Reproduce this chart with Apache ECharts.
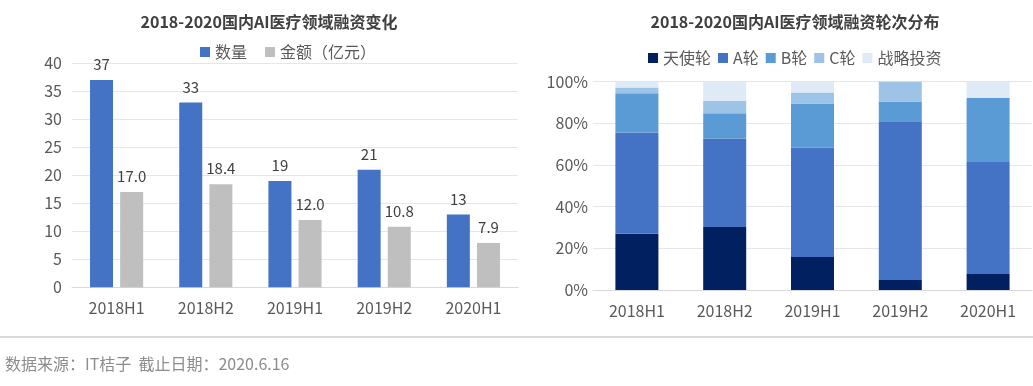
<!DOCTYPE html>
<html><head><meta charset="utf-8">
<script src="https://cdn.jsdelivr.net/npm/echarts@6/dist/echarts.min.js"></script>
<style>html,body{margin:0;padding:0;background:#fff}#c{width:1033px;height:386px}</style>
</head><body><div id="c"></div>
<script>
var categories = ['2018H1','2018H2','2019H1','2019H2','2020H1'];
var dealCount = [37, 33, 19, 21, 13];
var dealAmount = [17.0, 18.4, 12.0, 10.8, 7.9];
var leftTicks = [0,5,10,15,20,25,30,35,40];
var roundNames = ['天使轮','A轮','B轮','C轮','战略投资'];
var angelPct = [27.0, 30.3, 15.8, 4.8, 7.7];
var roundAPct = [48.6, 42.4, 52.6, 76.2, 53.8];
var roundBPct = [18.9, 12.1, 21.1, 9.5, 30.8];
var roundCPct = [2.7, 6.1, 5.3, 9.5, 0];
var strategicPct = [2.8, 9.1, 5.2, 0, 7.7];
var roundColors = ['#002060','#4472C4','#5B9BD5','#9DC3E6','#DEEBF7'];
var font = '"Noto Sans CJK SC","Noto Sans",sans-serif';
var txt = '#595959';

var chart = echarts.init(document.getElementById('c'));
var roundData = [angelPct, roundAPct, roundBPct, roundCPct, strategicPct];
var rightSeries = roundNames.map(function(n,i){
  return {name:n,type:'bar',stack:'r',xAxisIndex:1,yAxisIndex:1,barWidth:43,
    itemStyle:{color:roundColors[i]},data:roundData[i]};
});
chart.setOption({
  animation:false,
  textStyle:{fontFamily:font},
  title:[
    {text:'2018-2020国内AI医疗领域融资变化',left:264,top:9,textAlign:'center',
     textStyle:{fontSize:16,fontWeight:'bold',color:'#404040',fontFamily:font}},
    {text:'2018-2020国内AI医疗领域融资轮次分布',left:790,top:9,textAlign:'center',
     textStyle:{fontSize:16,fontWeight:'bold',color:'#404040',fontFamily:font}}
  ],
  legend:[
    {data:['数量','金额（亿元）'],left:195,top:39,itemWidth:10,itemHeight:10,itemGap:18,
     icon:'rect',textStyle:{fontSize:16,color:txt,fontFamily:font}},
    {data:roundNames,left:643,top:45,itemWidth:10,itemHeight:10,itemGap:7,
     icon:'rect',textStyle:{fontSize:16,color:txt,fontFamily:font}}
  ],
  grid:[
    {left:72,right:515,top:63.3,bottom:98.7},
    {left:593,right:1,top:81.7,bottom:96}
  ],
  xAxis:[
    {type:'category',data:categories,gridIndex:0,axisTick:{show:false},
     axisLine:{lineStyle:{color:'#d9d9d9'}},
     axisLabel:{fontSize:16,color:txt,margin:13}},
    {type:'category',data:categories,gridIndex:1,axisTick:{show:false},
     axisLine:{lineStyle:{color:'#d9d9d9'}},
     axisLabel:{fontSize:16,color:txt,margin:13}}
  ],
  yAxis:[
    {type:'value',gridIndex:0,min:leftTicks[0],max:leftTicks[leftTicks.length-1],interval:5,
     axisLine:{show:false},axisTick:{show:false},
     splitLine:{lineStyle:{color:'#e6e6e6'}},
     axisLabel:{fontSize:16,color:txt,margin:10}},
    {type:'value',gridIndex:1,min:0,max:100,interval:20,
     axisLine:{show:false},axisTick:{show:false},
     splitLine:{lineStyle:{color:'#e6e6e6'}},
     axisLabel:{fontSize:16,color:txt,margin:5,formatter:'{value}%'}}
  ],
  series:[
    {name:'数量',type:'bar',xAxisIndex:0,yAxisIndex:0,barWidth:23,barGap:'31%',
     itemStyle:{color:'#4472C4'},data:dealCount,
     label:{show:true,position:'top',distance:8,fontSize:15,color:'#404040'}},
    {name:'金额（亿元）',type:'bar',xAxisIndex:0,yAxisIndex:0,barWidth:23,barGap:'31%',
     itemStyle:{color:'#BFBFBF'},data:dealAmount,
     label:{show:true,position:'top',distance:8,fontSize:15,color:'#404040',
       formatter:function(p){return p.value.toFixed(1);}}}
  ].concat(rightSeries),
  graphic:[
    {type:'rect',shape:{x:0,y:336,width:1033,height:2},style:{fill:'#d9d9d9'}},
    {type:'text',x:5,y:356,style:{text:'数据来源：IT桔子  截止日期：2020.6.16',fill:'#8c8c8c',font:'16px '+font}}
  ]
});
</script></body></html>
